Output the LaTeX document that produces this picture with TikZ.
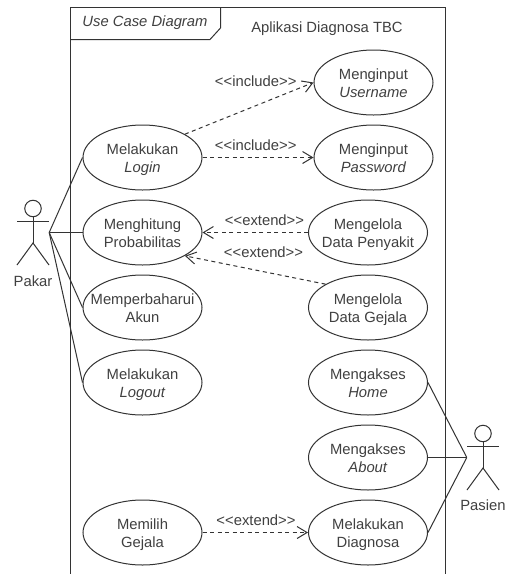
\documentclass[tikz,border=0pt]{standalone}
\usepackage{fontspec}
\setmainfont{Liberation Sans}
\usetikzlibrary{shapes.geometric,arrows.meta}
\definecolor{txt}{gray}{0.25}
\newcommand{\ucl}[2]{\smash{\raisebox{-5.6pt}{\makebox[0pt][c]{\begin{tabular}{@{}c@{}}#1\\#2\end{tabular}}}}}
\tikzset{
  x=1pt,y=-1pt,
  line/.style={draw=black!80,line width=1pt},
  uc/.style={ellipse,line,minimum width=119pt,minimum height=65pt,inner sep=0pt,text=txt,font=\fontsize{14.8}{18}\selectfont},
  lbl/.style={inner sep=0pt,text=txt,font=\fontsize{14.8}{18}\selectfont},
  dep/.style={line,dash pattern=on 4pt off 3.5pt,-{Straight Barb[length=10pt,width=12pt]}},
  actorbox/.style={minimum width=32pt,minimum height=65pt,inner sep=0pt},
}
\begin{document}
\begin{tikzpicture}
\useasboundingbox (0,0) rectangle (512,574);
\fill[white] (0,0) rectangle (512,574);
% frame
\draw[line] (70.5,574) -- (70.5,7.5) -- (445.5,7.5) -- (445.5,574);
\draw[line] (220.5,7.5) -- (220.5,28) -- (210,39.5) -- (70.5,39.5);
\node[lbl,font=\fontsize{14.8}{18}\selectfont\itshape] (frametitle) at (145,23) {Use Case Diagram};
\node[lbl] (system) at (327,29) {Aplikasi Diagnosa TBC};
% use cases
\node[uc] (login) at (142.5,157.5) {\ucl{Melakukan}{\textit{Login}}};
\node[uc] (hitung) at (142.5,232.5) {\ucl{Menghitung}{Probabilitas}};
\node[uc] (akun) at (142.5,307.5) {\ucl{Memperbaharui}{Akun}};
\node[uc] (logout) at (142.5,382.5) {\ucl{Melakukan}{\textit{Logout}}};
\node[uc] (gejala) at (142.5,532.5) {\ucl{Memilih}{Gejala}};
\node[uc] (username) at (373.5,82.5) {\ucl{Menginput}{\textit{Username}}};
\node[uc] (password) at (373.5,157.5) {\ucl{Menginput}{\textit{Password}}};
\node[uc] (penyakit) at (368,232.5) {\ucl{Mengelola}{Data Penyakit}};
\node[uc] (datagejala) at (368,307.5) {\ucl{Mengelola}{Data Gejala}};
\node[uc] (home) at (368,382.5) {\ucl{Mengakses}{\textit{Home}}};
\node[uc] (about) at (368,457.5) {\ucl{Mengakses}{\textit{About}}};
\node[uc] (diagnosa) at (368,532.5) {\ucl{Melakukan}{Diagnosa}};
% actors
\node[actorbox] (pakar) at (33,232.5) {};
\node[circle,line,minimum size=16.5pt,inner sep=0pt] (pakarhead) at (33,208.5) {};
\draw[line] (pakarhead.south) -- (33,243);
\draw[line] (17,221) -- (49,221);
\draw[line] (17,265) -- (33,243) -- (49,265);
\node[lbl] (pakarname) at (33,281) {Pakar};
\node[actorbox] (pasien) at (483,457.5) {};
\node[circle,line,minimum size=16.5pt,inner sep=0pt] (pasienhead) at (483,433.5) {};
\draw[line] (pasienhead.south) -- (483,468);
\draw[line] (467,446) -- (499,446);
\draw[line] (467,490) -- (483,468) -- (499,490);
\node[lbl] (pasienname) at (483,505) {Pasien};
% associations
\draw[line] (pakar.east) -- (login.west);
\draw[line] (pakar.east) -- (hitung.west);
\draw[line] (pakar.east) -- (akun.west);
\draw[line] (pakar.east) -- (logout.west);
\draw[line] (pasien.west) -- (home.east);
\draw[line] (pasien.west) -- (about.east);
\draw[line] (pasien.west) -- (diagnosa.east);
% dependencies
\draw[dep] (login.north east) -- (username.west);
\draw[dep] (login.east) -- (password.west);
\draw[dep] (penyakit.west) -- (hitung.east);
\draw[dep] (datagejala.north west) -- (hitung.south east);
\draw[dep] (gejala.east) -- (diagnosa.west);
% labels
\node[lbl] (inc1) at (255.7,81) {<{}<include>{}>};
\node[lbl] (inc2) at (255.7,145) {<{}<include>{}>};
\node[lbl] (ext1) at (264.5,220) {<{}<extend>{}>};
\node[lbl] (ext2) at (263.5,252) {<{}<extend>{}>};
\node[lbl] (ext3) at (256,520) {<{}<extend>{}>};
\end{tikzpicture}
\end{document}
